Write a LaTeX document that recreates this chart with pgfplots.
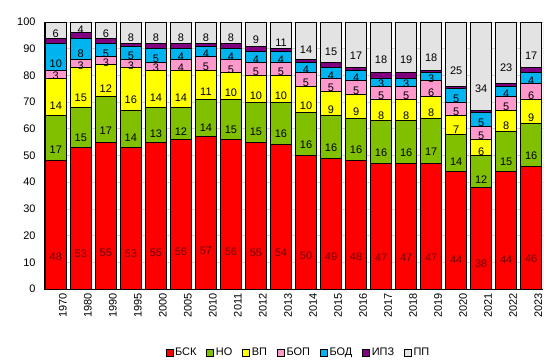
\documentclass[border=0pt]{standalone}
\usepackage{pgfplots}
\pgfplotsset{compat=1.18}
\usepackage{pgfplotstable}
\usepackage{fontspec}
\setmainfont{Liberation Sans}
\definecolor{cBSK}{RGB}{255,0,0}
\definecolor{cNO}{RGB}{128,192,0}
\definecolor{cVP}{RGB}{255,255,0}
\definecolor{cBOP}{RGB}{255,153,204}
\definecolor{cBOD}{RGB}{0,180,240}
\definecolor{cIPZ}{RGB}{128,0,128}
\definecolor{cPP}{RGB}{227,227,227}
\definecolor{labred}{RGB}{110,0,0}
\pgfplotsset{
  vcenter/.style={
    every node near coord/.append style={
      /pgfplots/calculate offset/.code={%
        \pgfkeys{/pgf/fpu=true,/pgf/fpu/output format=fixed}%
        \pgfmathsetmacro\testmacro{\pgfplotspointmeta*0.6675}%
        \pgfkeys{/pgf/fpu=false}%
      },
      /pgfplots/calculate offset,
      yshift=-\testmacro bp,
      anchor=center,
      inner sep=0pt,
      font=\fontsize{11}{13}\selectfont
    }
  }
}
% pp = printed share of "ПП"; ppb = its bar height (100 minus the other shares)
\pgfplotstableread{
x yr bsk no vp bop bod ipz pp ppb
0 1970 48 17 14 3 10 2 6 6
1 1980 53 15 15 3 8 2 4 4
2 1990 55 17 12 3 5 2 6 6
3 1995 53 14 16 3 5 1 8 8
4 2000 55 13 14 3 5 2 8 8
5 2005 56 12 14 4 4 2 8 8
6 2010 57 14 11 5 4 1 8 8
7 2011 56 15 10 5 4 2 8 8
8 2012 55 15 10 5 4 2 9 9
9 2013 54 16 10 5 4 1 11 10
10 2014 50 16 10 5 4 1 14 14
11 2015 49 16 9 5 4 2 15 15
12 2016 48 16 9 5 4 1 17 17
13 2017 47 16 8 5 3 2 18 19
14 2018 47 16 8 5 3 2 19 19
15 2019 47 17 8 6 3 1 18 18
16 2020 44 14 7 5 5 1 25 24
17 2021 38 12 6 5 5 1 34 33
18 2022 44 15 8 5 4 1 23 23
19 2023 46 16 9 6 4 2 17 17
}\data
\begin{document}
\begin{tikzpicture}
\path[use as bounding box] (-44bp,-75bp) rectangle (512bp,289bp);
\begin{axis}[
  scale only axis,
  width=499bp, height=267bp,
  ybar stacked,
  bar width=21bp,
  xmin=-0.47, xmax=19.47,
  ymin=0, ymax=100,
  ytick={0,10,...,100},
  xtick={0,...,19},
  xticklabels from table={\data}{yr},
  xticklabel style={rotate=90, anchor=east, yshift=-7bp, xshift=-1bp, font=\fontsize{11}{13}\selectfont},
  yticklabel style={font=\fontsize{11}{13}\selectfont, xshift=-5bp},
  /pgf/number format/assume math mode=true,
  major tick length=0pt,
  ymajorgrids,
  grid style={draw=black!18, line width=0.6bp},
  axis x line*=bottom,
  axis y line*=left,
  axis line style={black, line width=1bp},
  every axis plot/.append style={draw=black, line width=0.7bp},
  vcenter,
  legend style={at={(0.51,-0.205)}, anchor=north, draw=none, legend columns=-1,
    font=\fontsize{11}{13}\selectfont,
    /tikz/every even column/.append style={column sep=8bp}},
  legend image code/.code={\draw[#1, line width=0.5bp] (0bp,-3.5bp) rectangle (7bp,3.5bp);},
  legend cell align=left,
]
\addplot[fill=cBSK, nodes near coords, every node near coord/.append style={text=labred, text opacity=1}] table[x=x,y=bsk]{\data};
\addplot[fill=cNO, nodes near coords] table[x=x,y=no]{\data};
\addplot[fill=cVP, nodes near coords] table[x=x,y=vp]{\data};
\addplot[fill=cBOP, nodes near coords] table[x=x,y=bop]{\data};
\addplot[fill=cBOD, nodes near coords] table[x=x,y=bod]{\data};
\addplot[fill=cIPZ] table[x=x,y=ipz]{\data};
\addplot[fill=cPP, nodes near coords, point meta=explicit] table[x=x,y=ppb,meta=pp]{\data};
\legend{БСК,НО,ВП,БОП,БОД,ИПЗ,ПП}
\draw[black!45, line width=0.8bp] (rel axis cs:1,0) -- (rel axis cs:1,1);
\node[font=\fontsize{11}{13}\selectfont, anchor=south] at ([xshift=18bp,yshift=1bp]rel axis cs:0,1) {\%};
\end{axis}
\end{tikzpicture}
\end{document}
